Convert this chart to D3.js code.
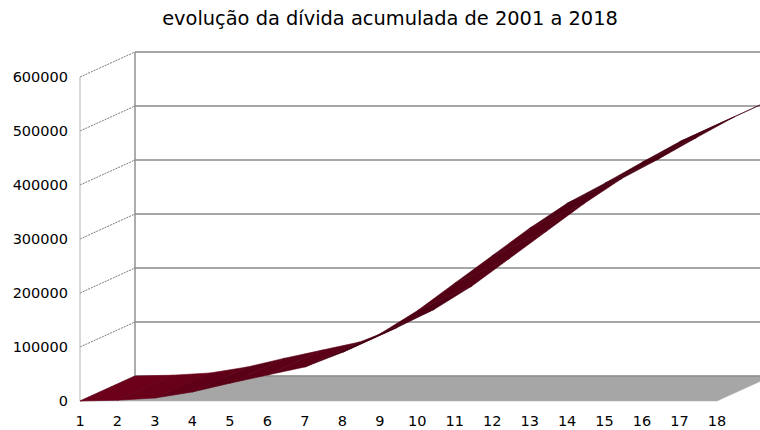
<!DOCTYPE html>
<html>
<head>
<meta charset="utf-8">
<script src="https://cdn.jsdelivr.net/npm/d3@7"></script>
<style>
  body { margin: 0; background: #fff; }
  text { font-family: "DejaVu Sans", sans-serif; fill: #000; }
</style>
</head>
<body>
<div id="graph"></div>
<script>
"use strict";

var width = 760,
    height = 430;

// data
let categories = ["1", "2", "3", "4", "5", "6", "7", "8", "9", "10", "11", "12", "13", "14", "15", "16", "17", "18"];
let divida = [0, 1500, 5500, 16700, 33000, 48000, 63000, 90000, 124000, 167000, 218000, 269000, 320000, 366000, 403000, 442000, 480000, 512000];
let yTicks = [0, 100000, 200000, 300000, 400000, 500000, 600000];
let title = "evolução da dívida acumulada de 2001 a 2018";

// depth of the 3d box, in pixels
let depthX = 55,
    depthY = -25;

let svg = d3.select("#graph")
    .append("svg")
    .attr("width", width)
    .attr("height", height);

let xScale = d3.scalePoint()
    .domain(categories)
    .range([80, 717]);

let yScale = d3.scaleLinear()
    .domain([0, 600000])
    .range([401, 77]);

let gridColor = "#8a8a8a";

// floor
let x0 = xScale(categories[0]),
    x1 = xScale(categories[categories.length - 1]),
    yFloor = yScale(0);
svg.append("path")
    .attr("d", "M" + x0 + "," + yFloor +
               "L" + x1 + "," + yFloor +
               "L" + (x1 + depthX) + "," + (yFloor + depthY) +
               "L" + (x0 + depthX) + "," + (yFloor + depthY) + "Z")
    .attr("fill", "#a6a6a6")
    .attr("stroke", "#b5b5b5")
    .attr("stroke-width", 0.6);

// back wall gridlines
svg.append("g").selectAll("line")
    .data(yTicks)
    .enter()
    .append("line")
    .attr("x1", x0 + depthX)
    .attr("x2", x1 + depthX + 20)
    .attr("y1", d => yScale(d) + depthY)
    .attr("y2", d => yScale(d) + depthY)
    .attr("stroke", gridColor)
    .attr("stroke-width", 1.4);

// back wall left edge
svg.append("line")
    .attr("x1", x0 + depthX).attr("x2", x0 + depthX)
    .attr("y1", yScale(600000) + depthY)
    .attr("y2", yScale(0) + depthY)
    .attr("stroke", gridColor)
    .attr("stroke-width", 1.4);

// side wall gridlines
svg.append("g").selectAll("line")
    .data(yTicks)
    .enter()
    .append("line")
    .attr("x1", x0)
    .attr("x2", x0 + depthX)
    .attr("y1", d => yScale(d))
    .attr("y2", d => yScale(d) + depthY)
    .attr("stroke", "#7a7a7a")
    .attr("stroke-width", 1)
    .attr("stroke-dasharray", "2,1");

// side wall front edge
svg.append("line")
    .attr("x1", x0).attr("x2", x0)
    .attr("y1", yScale(600000))
    .attr("y2", yScale(0))
    .attr("stroke", "#b3b3b3")
    .attr("stroke-width", 1);

// ribbon, one quad per segment, shaded by its slope
let light = [0.9, 0.45];
let lightLen = Math.hypot(light[0], light[1]);
let segs = d3.range(divida.length - 1).map(function (i) {
    let xa = xScale(categories[i]), xb = xScale(categories[i + 1]);
    let ya = yScale(divida[i]), yb = yScale(divida[i + 1]);
    let dx = xb - xa, dy = ya - yb;
    let len = Math.hypot(dx, dy);
    let n = [-dy / len, dx / len];
    // top face seen when the segment is flatter than the depth direction
    if (dy / dx > -depthY / depthX) n = [-n[0], -n[1]];
    let dot = (n[0] * light[0] + n[1] * light[1]) / lightLen;
    let k = 0.62 + 0.85 * Math.max(0, dot);
    let c = d3.rgb(110 * k, 0, 27 * k);
    return {xa: xa, xb: xb, ya: ya, yb: yb, color: c.toString()};
});

svg.append("g").selectAll("path")
    .data(segs)
    .enter()
    .append("path")
    .attr("d", d => "M" + d.xa + "," + d.ya +
                    "L" + d.xb + "," + d.yb +
                    "L" + (d.xb + depthX) + "," + (d.yb + depthY) +
                    "L" + (d.xa + depthX) + "," + (d.ya + depthY) + "Z")
    .attr("fill", d => d.color)
    .attr("stroke", d => d.color)
    .attr("stroke-width", 0.6)
    .attr("stroke-linejoin", "round");

// y labels
svg.append("g").selectAll("text")
    .data(yTicks)
    .enter()
    .append("text")
    .attr("x", 68)
    .attr("y", d => yScale(d) + 5.3)
    .attr("text-anchor", "end")
    .style("font-size", "14.5px")
    .text(d => d);

// x labels
svg.append("g").selectAll("text")
    .data(categories)
    .enter()
    .append("text")
    .attr("x", d => xScale(d))
    .attr("y", 426)
    .attr("text-anchor", "middle")
    .style("font-size", "14.5px")
    .text(d => d);

// title
svg.append("text")
    .attr("x", 390)
    .attr("y", 25)
    .attr("text-anchor", "middle")
    .style("font-size", "19.4px")
    .text(title);
</script>
</body>
</html>
